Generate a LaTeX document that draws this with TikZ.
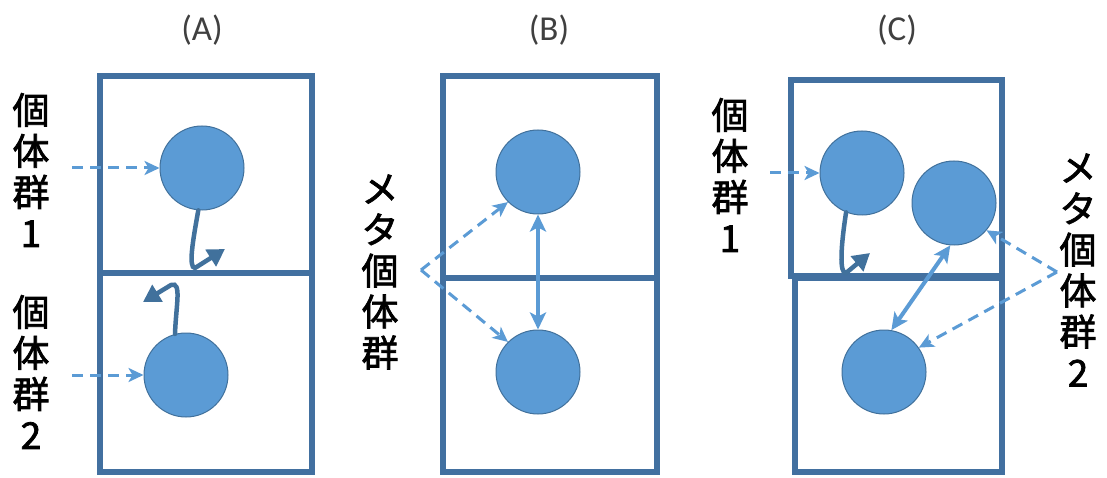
\documentclass[tikz,border=0pt]{standalone}
\usepackage{fontspec}
\setmainfont{Carlito}
\newfontfamily\jp[FakeBold=2]{Noto Sans CJK JP}
\usetikzlibrary{arrows.meta}
\definecolor{boxc}{HTML}{4270A0}
\definecolor{fillc}{HTML}{5B9BD5}
\definecolor{edgec}{HTML}{41719C}
\definecolor{titlec}{HTML}{404040}
\tikzset{
  frame/.style={draw=boxc, line width=6.5pt},
  pop/.style={circle, fill=fillc, draw=edgec, line width=1pt, minimum size=84pt, inner sep=0pt},
  dasharrow/.style={draw=fillc, line width=3pt, dash pattern=on 11pt off 7pt, -{Stealth[length=15pt,width=14pt,inset=4pt]}},
  migr/.style={draw=edgec, line width=4.5pt, line cap=round, -{Triangle[length=17pt,width=19pt]}},
  dbl/.style={draw=fillc, line width=4pt, {Stealth[length=17pt,width=16pt,inset=4pt]}-{Stealth[length=17pt,width=16pt,inset=4pt]}},
  vlabel/.style={font=\jp\fontsize{37}{41}\selectfont, align=center, inner sep=0pt},
  title/.style={font=\fontsize{35}{38}\selectfont, text=titlec, inner sep=0pt}
}
\begin{document}
\begin{tikzpicture}[x=1pt,y=-1pt]
\useasboundingbox[fill=white] (0,0) rectangle (1107,478);
% titles
\node[title] (tA) at (202,30) {(A)};
\node[title] (tB) at (549,30) {(B)};
\node[title] (tC) at (897,30) {(C)};
% panel A
\draw[frame] (100,76) rectangle (312,472);
\draw[frame] (100,273) -- (312,273);
\node[pop] (a1) at (202,168) {};
\node[pop] (a2) at (186,375) {};
\node[vlabel] (la1) at (31,170) {個\\体\\群\\1};
\node[vlabel] (la2) at (31,372) {個\\体\\群\\2};
\coordinate (sa1) at (72,168);
\coordinate (sa2) at (72,375);
\draw[dasharrow] (sa1) -- (a1.west);
\draw[dasharrow] (sa2) -- (a2.west);
\coordinate (ea1) at (225,249);
\coordinate (ea2) at (143,302);
\draw[migr] (a1.-95) .. controls (193,240) and (188,268) .. (195,268) -- (ea1);
\draw[migr] (a2.105) .. controls (176,305) and (182,281) .. (171,285) -- (ea2);
% panel B
\draw[frame] (443,76) rectangle (657,472);
\draw[frame] (443,278) -- (657,278);
\node[pop] (b1) at (538,172) {};
\node[pop] (b2) at (538,372) {};
\draw[dbl] (b1.south) -- (b2.north);
\node[vlabel] (lb) at (380,272) {メ\\タ\\個\\体\\群};
\coordinate (pb) at (421,270);
\draw[dasharrow] (pb) -- (b1.-135);
\draw[dasharrow] (pb) -- (b2.135);
% panel C
\draw[frame] (791,80) rectangle (1002,276);
\draw[frame] (795,278) rectangle (1002,472);
\node[pop] (c1) at (862,173) {};
\node[pop] (c2) at (954,203) {};
\node[pop] (c3) at (884,372) {};
\node[vlabel] (lc1) at (730,175) {個\\体\\群\\1};
\node[vlabel] (lc2) at (1078,270) {メ\\タ\\個\\体\\群\\2};
\coordinate (sc1) at (770,173);
\draw[dasharrow] (sc1) -- (c1.west);
\coordinate (ec1) at (870,253);
\draw[migr] (c1.-112) .. controls (841,245) and (839,274) .. (846,273) -- (ec1);
\draw[dbl] (c2.-95) -- (c3.80);
\coordinate (pc) at (1057,272);
\draw[dasharrow] (pc) -- (c2.-40);
\draw[dasharrow] (pc) -- (c3.35);
\end{tikzpicture}
\end{document}
